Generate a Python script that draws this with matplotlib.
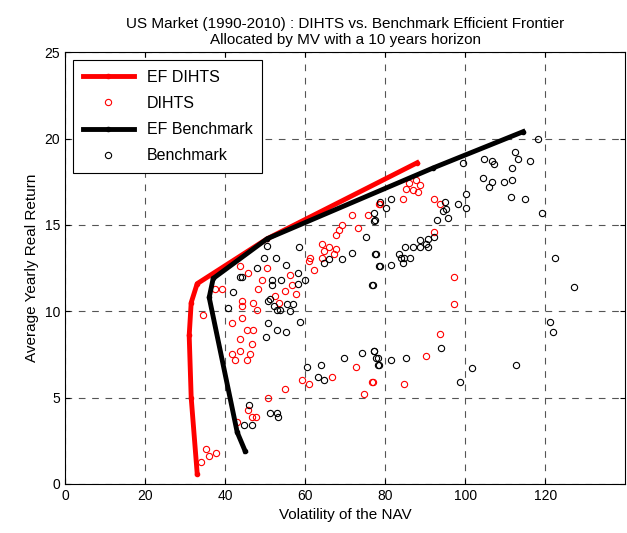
import matplotlib.pyplot as plt

plt.rcParams['font.family'] = ['Liberation Sans', 'DejaVu Sans']

# Efficient frontiers
ef_dihts_x = [33, 31.5, 31, 31.5, 33, 50.5, 88]
ef_dihts_y = [0.6, 5.0, 8.6, 10.5, 11.6, 14.2, 18.6]
ef_bench_x = [45, 43, 36, 37, 50.5, 92, 114.5]
ef_bench_y = [1.9, 3.0, 10.8, 11.9, 14.2, 18.3, 20.4]

# Portfolios
dihts_x = [37.4, 39.1, 34.4, 35.3, 37.6, 41.6, 44.1, 45.4, 43.7, 41.6, 42.4, 43.7, 45.4, 46.2,
           46.6, 47, 44.1, 44.1, 47, 47.9, 48.3, 49.2, 43.7, 45.8, 50.4, 52.5, 53.4, 55, 56.3,
           56.7, 57.6, 60.9, 62.2, 61.3, 64.3, 64.7, 64.3, 65.9, 67.6, 67.2, 67.6, 69.3, 68.5,
           71.8, 73.1, 75.6, 78.6, 50.8, 45.8, 46.6, 47.6, 42.9, 55, 59.2, 60.9, 66.8, 72.7,
           76.9, 74.8, 84.4, 85.2, 86, 86.9, 88.1, 88.6, 87.7, 92.1, 93.6, 92.1, 97.2, 97.2,
           93.6, 90.1, 84.6, 76.8, 78.5, 34, 36]
dihts_y = [11.3, 11.3, 9.8, 2.0, 1.8, 9.3, 9.6, 8.9, 8.4, 7.5, 7.2, 7.7, 7.2, 7.5,
           8.1, 8.9, 10.6, 10.3, 10.5, 10.1, 11.3, 11.8, 12.6, 12.2, 12.5, 10.9, 10.5, 11.2, 12.1,
           11.5, 11.0, 12.9, 12.4, 13.1, 13.9, 13.5, 13.1, 13.7, 13.6, 13.3, 14.4, 15.0, 14.7,
           15.6, 14.8, 15.6, 16.2, 5.0, 4.3, 3.9, 3.9, 3.6, 5.5, 6.0, 5.8, 6.2, 6.8,
           5.9, 5.2, 16.5, 17.1, 17.4, 17.0, 16.9, 17.3, 17.6, 16.5, 16.2, 14.6, 12.0, 10.4,
           8.7, 7.4, 5.8, 5.9, 16.2, 1.3, 1.6]
bench_x = [43.7, 44.1, 42, 40.7, 47.9, 49.6, 50.4, 52.7, 51.8, 51.7, 54, 55.2, 58.4, 58.2,
           58.2, 59.9, 50.8, 51.3, 52.1, 52.9, 53.8, 55.4, 57, 56.3, 58.6, 50.7, 52.9, 55.2,
           50.2, 64.7, 65.9, 69.3, 71.8, 75.2, 77.6, 78.6, 76.9, 77.3, 77.3, 60.5, 64, 63.2,
           64.7, 69.6, 74.1, 77.3, 78.1, 78.4, 46, 51.1, 52.9, 53.2, 44.7, 46.8,
           99.5, 104.7, 106.6, 107.2, 112.5, 113.1, 116.3, 118.2, 104.4, 106.6, 106, 109.6,
           111.8, 111.8, 111.5, 115, 119.2, 100.2, 100.3, 98.2, 95, 95.3, 94.4, 95.7, 93,
           81.4, 80.2, 78.6, 77.5, 92.1, 90.7, 90.2, 90.7, 88.6, 88.6, 86.9, 85, 83.4, 83.9,
           84.8, 86.3, 84.4, 81.4, 78.5, 77.5, 76.8, 122.4, 127.1, 121.2, 121.9, 94, 81.4,
           85.2, 77.2, 77.8, 78.1, 101.8, 112.8, 98.6]
bench_y = [12, 12, 11.1, 10.2, 12.5, 13.1, 13.8, 13.1, 11.8, 11.5, 11.8, 12.7, 13.7, 12.2,
           11.6, 11.8, 10.6, 10.7, 10.3, 10.1, 10.1, 10.4, 10.4, 10, 9.4, 9.3, 8.9, 8.8,
           8.5, 12.8, 13, 13, 13.4, 14.3, 13.3, 12.6, 11.5, 15.2, 15.7, 6.8, 6.9, 6.2,
           6.0, 7.3, 7.6, 7.7, 7.3, 6.9, 4.6, 4.1, 4.1, 3.9, 3.4, 3.4,
           18.6, 18.8, 18.7, 18.5, 19.2, 18.8, 18.7, 20, 17.7, 17.5, 17.2, 17.5,
           18.3, 17.6, 16.6, 16.5, 15.7, 16.8, 16, 16.2, 16.3, 15.9, 15.8, 15.4, 15.3,
           16.5, 16, 16.3, 15.3, 14.3, 14.2, 13.9, 13.7, 14.1, 13.7, 13.7, 13.7, 13.3, 13.1,
           13.1, 13.1, 12.8, 12.7, 12.6, 13.3, 11.5, 13.1, 11.4, 9.4, 8.8, 7.9, 7.2,
           7.3, 7.7, 7.3, 6.9, 6.7, 6.9, 5.9]

fig = plt.figure(figsize=(6.27, 5.33), dpi=100)
ax = fig.add_axes([0.104, 0.092, 0.893, 0.81])

ax.plot(ef_dihts_x, ef_dihts_y, '-', color='red', lw=3.5, marker='.', ms=6, label='EF DIHTS')
ax.plot(dihts_x, dihts_y, 'o', mfc='none', mec='red', ms=4.5, mew=0.8, label='DIHTS')
ax.plot(ef_bench_x, ef_bench_y, '-', color='black', lw=3.5, marker='.', ms=6, label='EF Benchmark')
ax.plot(bench_x, bench_y, 'o', mfc='none', mec='black', ms=4.5, mew=0.8, label='Benchmark')

ax.set_xlim(0, 140)
ax.set_ylim(0, 25)
ax.set_xticks([0, 20, 40, 60, 80, 100, 120])
ax.set_yticks([0, 5, 10, 15, 20, 25])
ax.grid(True, linestyle=(0, (6, 6)), color='#555555', lw=0.8)
ax.tick_params(direction='in', labelsize=10, top=True, right=True)
ax.set_xlabel('Volatility of the NAV', fontsize=11)
ax.set_ylabel('Average Yearly Real Return', fontsize=11)
ax.set_title('US Market (1990-2010) : DIHTS vs. Benchmark Efficient Frontier\n'
             'Allocated by MV with a 10 years horizon', fontsize=11)
leg = ax.legend(loc='upper left', fontsize=11.5, fancybox=False, edgecolor='black',
                framealpha=1, handlelength=3.2, labelspacing=0.7, borderpad=0.6)
leg.get_frame().set_linewidth(0.8)

fig.savefig('out.png', dpi=100)
